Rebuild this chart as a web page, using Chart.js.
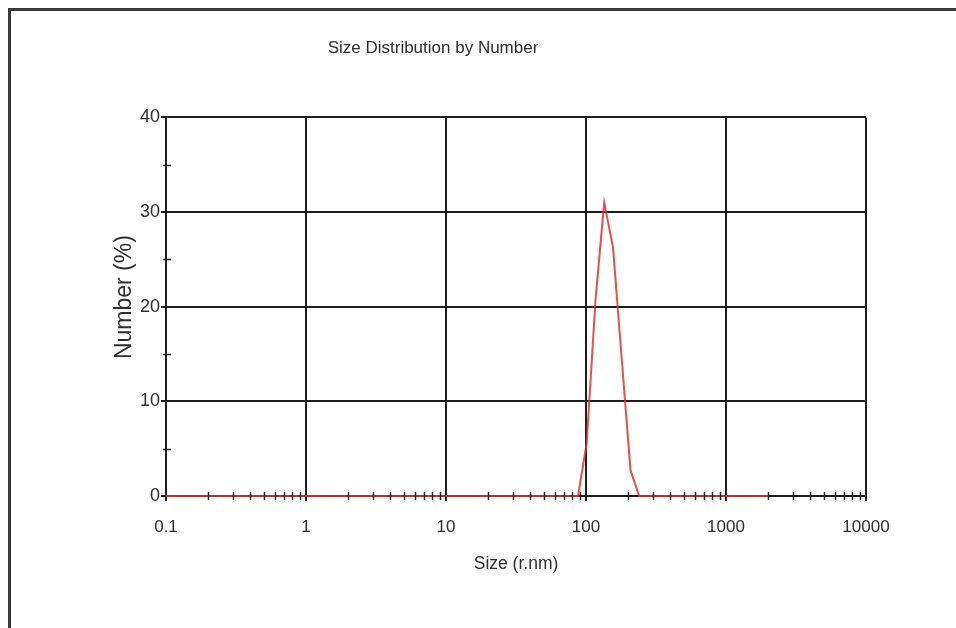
<!DOCTYPE html>
<html>
<head>
<meta charset="utf-8">
<script src="https://cdn.jsdelivr.net/npm/chart.js@4"></script>
<style>
  html, body { margin: 0; padding: 0; background: #fff; overflow: hidden; }
  .frame {
    position: absolute; left: 8px; top: 8px; width: 1000px; height: 700px;
    border-top: 3px solid #3a3a3a; border-left: 3px solid #3a3a3a;
  }
  .wrap { position: absolute; left: 0; top: 0; width: 956px; height: 628px; }
</style>
</head>
<body>
<div class="frame"></div>
<div class="wrap"><canvas id="chart" width="956" height="628"></canvas></div>
<script>
const sizes = [0.1, 87.7, 101.2, 116.9, 134.9, 155.9, 179.9, 208.0, 239.9, 2000];
const numbers = [0, 0, 5.6, 20.7, 31.0, 26.3, 14.5, 2.7, 0, 0];
const xTicks = [0.1, 1, 10, 100, 1000, 10000];
const yMinorTicks = [5, 15, 25, 35];

const sans = "'Liberation Sans', Arial, sans-serif";
const ink = "#2e2e2e";
const gridInk = "#1c1c1c";

// small tick marks between the gridlines, placed through the scales
const minorTicks = {
  id: "minorTicks",
  afterDraw(chart) {
    const ctx = chart.ctx;
    const x = chart.scales.x;
    const y = chart.scales.y;
    ctx.save();
    ctx.strokeStyle = gridInk;
    ctx.lineWidth = 1.5;
    for (let d = 0; d < xTicks.length - 1; d++) {
      for (let m = 2; m <= 9; m++) {
        const px = Math.round(x.getPixelForValue(xTicks[d] * m)) + 0.5;
        ctx.beginPath();
        ctx.moveTo(px, y.bottom - 4);
        ctx.lineTo(px, y.bottom + 4);
        ctx.stroke();
      }
    }
    yMinorTicks.forEach(v => {
      const py = Math.round(y.getPixelForValue(v)) + 0.5;
      ctx.beginPath();
      ctx.moveTo(x.left - 3, py);
      ctx.lineTo(x.left + 5, py);
      ctx.stroke();
    });
    ctx.restore();
  }
};

new Chart(document.getElementById("chart"), {
  type: "line",
  data: {
    datasets: [{
      data: sizes.map((s, i) => ({ x: s, y: numbers[i] })),
      borderColor: "rgba(224, 48, 52, 0.85)",
      borderWidth: 2,
      pointRadius: 0,
      tension: 0,
      fill: false,
      clip: false
    }]
  },
  options: {
    responsive: false,
    animation: false,
    layout: { padding: { left: 0, right: 90, top: 0, bottom: 0 } },
    plugins: {
      legend: { display: false },
      tooltip: { enabled: false },
      title: {
        display: true,
        text: "Size Distribution by Number",
        color: ink,
        font: { family: sans, size: 17, weight: "normal" },
        padding: { top: 38, bottom: 59 }
      }
    },
    scales: {
      x: {
        type: "logarithmic",
        min: 0.1,
        max: 10000,
        afterBuildTicks: scale => { scale.ticks = xTicks.map(v => ({ value: v })); },
        afterFit: scale => { scale.height = 132; },
        ticks: {
          color: ink,
          font: { family: sans, size: 17 },
          padding: 16,
          maxRotation: 0,
          autoSkip: false,
          callback: v => String(v)
        },
        grid: { color: gridInk, lineWidth: 2, tickLength: 5, drawTicks: true },
        border: { color: gridInk, width: 2 },
        title: {
          display: true,
          text: "Size (r.nm)",
          color: ink,
          font: { family: sans, size: 17.5 },
          padding: { top: 0, bottom: 53 }
        }
      },
      y: {
        min: 0,
        max: 40,
        afterFit: scale => { scale.width = 166; },
        ticks: {
          stepSize: 10,
          color: ink,
          font: { family: sans, size: 18 },
          padding: 1
        },
        grid: { color: gridInk, lineWidth: 2, tickLength: 5, drawTicks: true },
        border: { color: gridInk, width: 2 },
        title: {
          display: true,
          text: "   Number (%)",
          color: ink,
          font: { family: sans, size: 23 },
          padding: { top: 111, bottom: 0 }
        }
      }
    }
  },
  plugins: [minorTicks]
});
</script>
</body>
</html>
